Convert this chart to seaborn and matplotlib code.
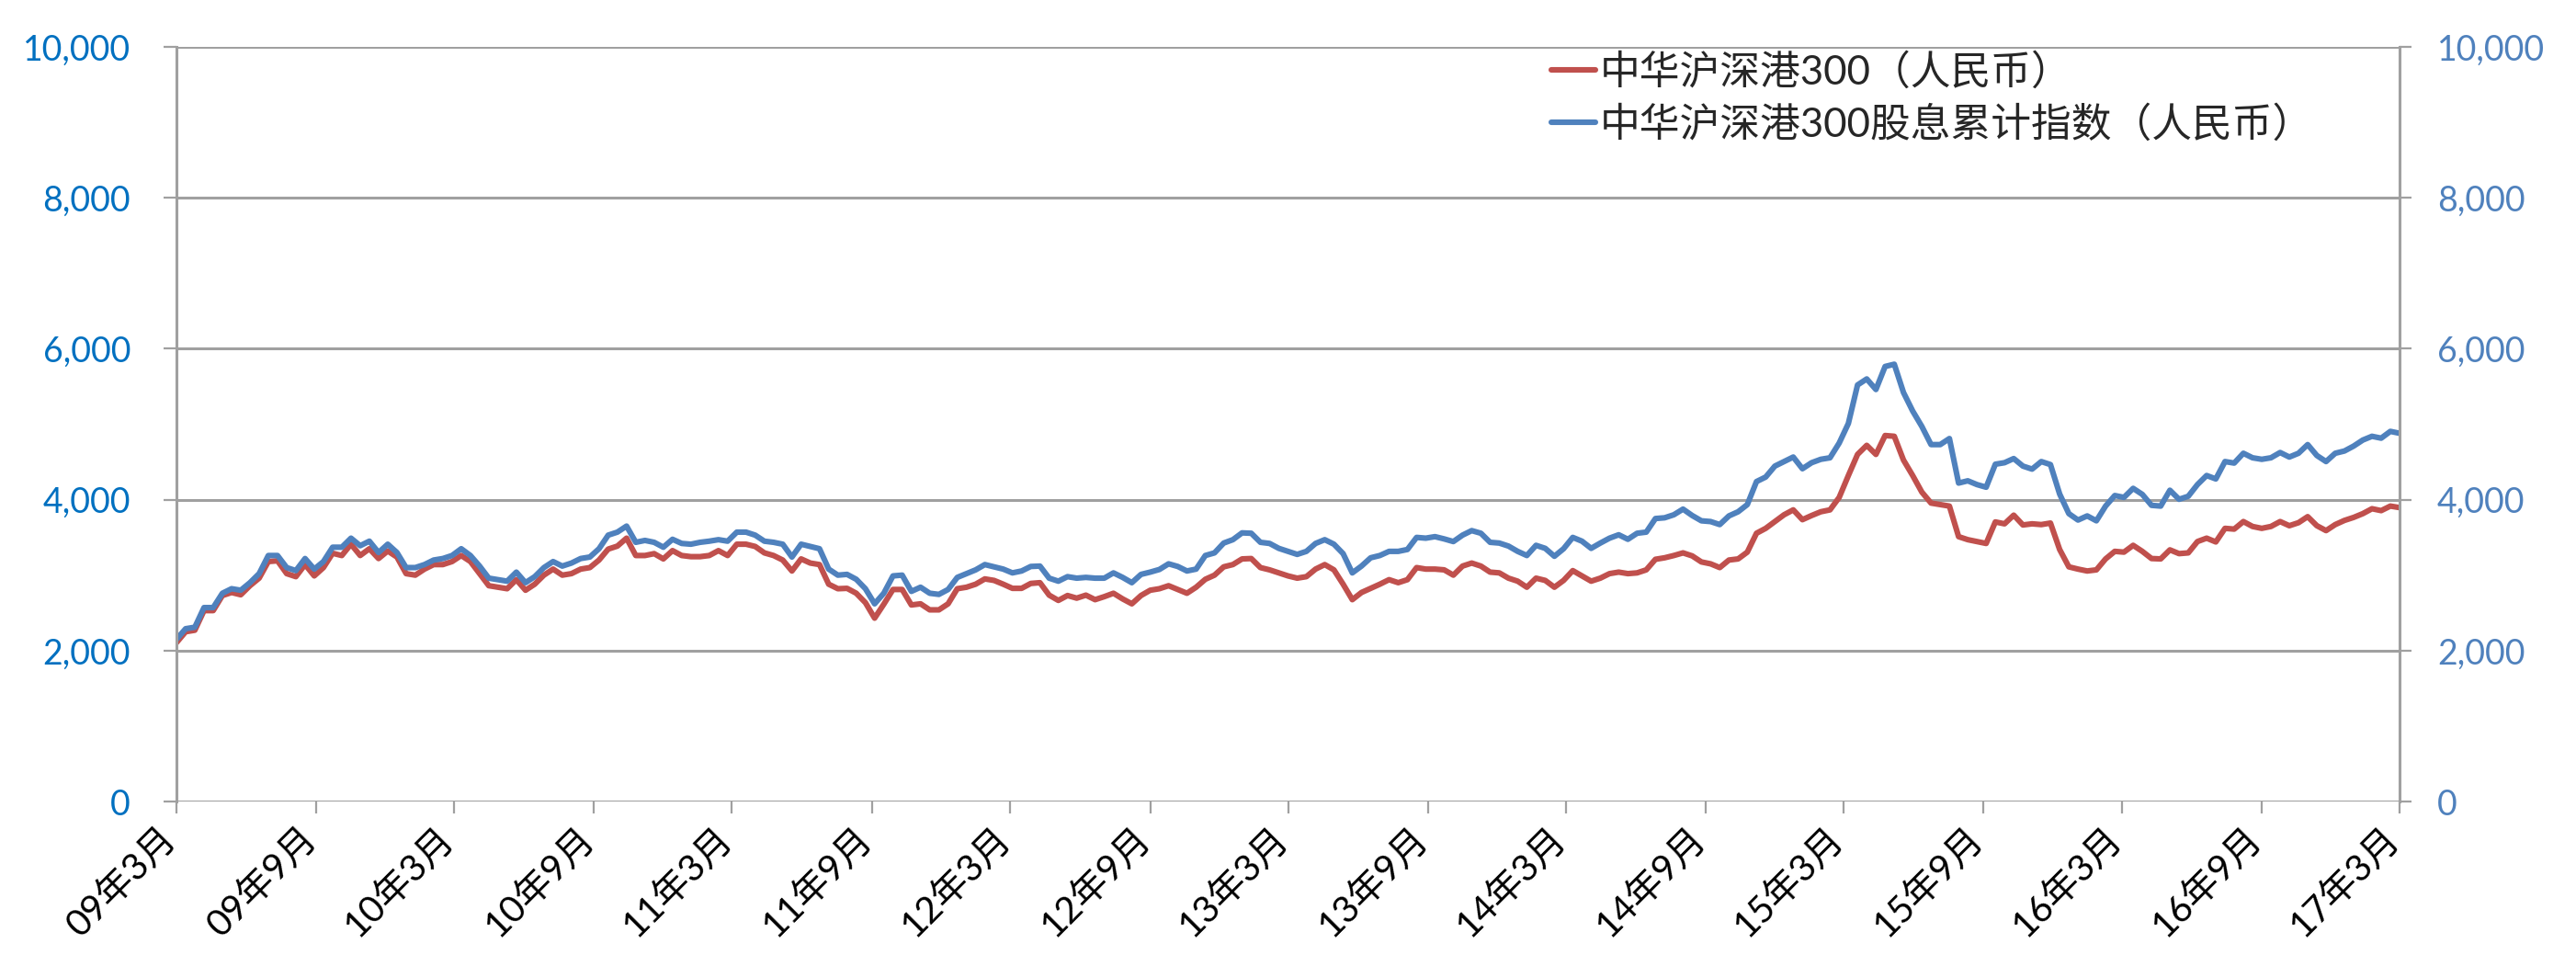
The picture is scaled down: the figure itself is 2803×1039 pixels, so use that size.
import numpy as np
import pandas as pd
import matplotlib
matplotlib.use('Agg')
import matplotlib.pyplot as plt
import matplotlib.ticker as mticker
import matplotlib.transforms as mtransforms
import seaborn as sns

start_date = '2009-03-01'
end_date = '2017-03-01'

series_names = ['中华沪深港300（人民币）', '中华沪深港300股息累计指数（人民币）']

hs300_rmb = [
    2105, 2250, 2270, 2530, 2530, 2730, 2770, 2740, 2860, 2960,
    3180, 3190, 3020, 2980, 3140, 2990, 3100, 3290, 3260, 3410,
    3260, 3350, 3220, 3320, 3240, 3020, 3000, 3080, 3140, 3140,
    3180, 3260, 3180, 3020, 2860, 2840, 2820, 2940, 2800, 2880,
    3000, 3080, 3000, 3020, 3080, 3100, 3200, 3345, 3385,
    3490, 3260, 3260, 3285, 3215, 3325, 3260, 3245, 3245, 3260,
    3325, 3260, 3410, 3410, 3380, 3295, 3260, 3200, 3055, 3215,
    3160, 3140, 2880, 2820, 2825, 2760, 2635, 2430, 2615, 2810,
    2810, 2605, 2620, 2540, 2540, 2620, 2820, 2840, 2880, 2950,
    2930, 2880, 2825, 2825, 2890, 2900, 2735, 2665, 2730,
    2695, 2735, 2675, 2715, 2760, 2685, 2620, 2730, 2800, 2820,
    2860, 2810, 2760, 2840, 2945, 3000, 3110, 3140, 3215, 3220,
    3100, 3070, 3030, 2990, 2960, 2980, 3080, 3140, 3070, 2880,
    2675, 2770, 2825, 2880, 2940, 2900, 2940, 3100, 3080, 3080,
    3070, 3000, 3120, 3160, 3120, 3040, 3030, 2960, 2920,
    2840, 2960, 2930, 2840, 2930, 3060, 2990, 2920, 2960, 3020,
    3040, 3020, 3030, 3070, 3210, 3230, 3260, 3295, 3255, 3175,
    3150, 3100, 3200, 3215, 3305, 3555, 3620, 3710, 3800, 3865,
    3735, 3790, 3840, 3865, 4030, 4320, 4600, 4720, 4600, 4850,
    4840, 4525, 4320, 4100, 3955, 3935, 3915, 3510, 3470,
    3445, 3420, 3705, 3680, 3795, 3665, 3680, 3670, 3690, 3340,
    3110, 3080, 3055, 3070, 3215, 3315, 3305, 3395, 3315, 3220,
    3215, 3335, 3285, 3295, 3445, 3490, 3440, 3620, 3610, 3710,
    3645, 3620, 3645, 3710, 3655, 3695, 3775, 3655, 3590, 3670,
    3725, 3765, 3815, 3880, 3855, 3915, 3895,
]

hs300_div_rmb = [
    2150, 2290, 2310, 2570, 2570, 2760, 2820, 2800, 2900, 3020,
    3260, 3260, 3100, 3060, 3220, 3080, 3180, 3370, 3370, 3490,
    3390, 3450, 3300, 3410, 3300, 3100, 3100, 3140, 3200, 3220,
    3260, 3350, 3260, 3120, 2960, 2940, 2920, 3040, 2900, 2980,
    3100, 3180, 3120, 3160, 3220, 3240, 3350, 3530, 3570,
    3650, 3435, 3460, 3435, 3370, 3475, 3420, 3410, 3435, 3450,
    3470, 3450, 3570, 3570, 3530, 3450, 3435, 3410, 3240, 3410,
    3380, 3350, 3080, 3000, 3010, 2945, 2820, 2620, 2760, 2990,
    3000, 2785, 2840, 2760, 2745, 2810, 2970, 3020, 3070, 3140,
    3110, 3080, 3030, 3055, 3115, 3120, 2960, 2920, 2980,
    2960, 2970, 2960, 2960, 3030, 2970, 2900, 3010, 3040, 3075,
    3150, 3115, 3055, 3080, 3260, 3295, 3425, 3470, 3560, 3555,
    3435, 3420, 3355, 3315, 3275, 3315, 3420, 3470, 3410, 3285,
    3030, 3120, 3230, 3260, 3315, 3315, 3340, 3500, 3490, 3510,
    3480, 3445, 3530, 3590, 3555, 3435, 3425, 3385, 3315,
    3260, 3395, 3355, 3250, 3350, 3500, 3450, 3355, 3425, 3490,
    3535, 3475, 3555, 3570, 3750, 3760, 3800, 3875, 3790, 3720,
    3710, 3670, 3785, 3840, 3935, 4240, 4300, 4445, 4505, 4565,
    4410, 4490, 4535, 4555, 4750, 5010, 5520, 5600, 5460, 5765,
    5795, 5420, 5175, 4970, 4730, 4730, 4810, 4220, 4250,
    4200, 4165, 4470, 4490, 4545, 4445, 4405, 4505, 4465, 4075,
    3815, 3730, 3785, 3720, 3915, 4055, 4030, 4150, 4070, 3925,
    3915, 4125, 4005, 4045, 4200, 4320, 4275, 4505, 4485, 4615,
    4555, 4535, 4555, 4625, 4565, 4615, 4730, 4585, 4505, 4615,
    4645, 4710, 4790, 4840, 4815, 4905, 4880,
]

tick_dates = ['2009-03-01', '2009-09-01', '2010-03-01', '2010-09-01', '2011-03-01',
              '2011-09-01', '2012-03-01', '2012-09-01', '2013-03-01', '2013-09-01',
              '2014-03-01', '2014-09-01', '2015-03-01', '2015-09-01', '2016-03-01',
              '2016-09-01', '2017-03-01']
tick_labels = ['09年3月', '09年9月', '10年3月', '10年9月', '11年3月', '11年9月',
               '12年3月', '12年9月', '13年3月', '13年9月', '14年3月', '14年9月',
               '15年3月', '15年9月', '16年3月', '16年9月', '17年3月']
y_ticks = [0, 2000, 4000, 6000, 8000, 10000]

sns.set_style('white')
plt.rcParams['font.family'] = ['Lato', 'Noto Sans CJK SC', 'DejaVu Sans']

df = pd.DataFrame({
    'date': pd.date_range(start_date, end_date, periods=len(hs300_rmb)),
    'price': hs300_rmb,
    'div': hs300_div_rmb,
})

red = '#C0504D'
blue = '#4F81BD'
grey = '#A0A0A0'

fig = plt.figure(figsize=(28.03, 10.39), dpi=100)
ax = fig.add_axes([0.0685, 0.1607, 0.8630, 0.7902])

sns.lineplot(data=df, x='date', y='price', ax=ax, color=red, linewidth=4.4,
             label=series_names[0])
sns.lineplot(data=df, x='date', y='div', ax=ax, color=blue, linewidth=4.4,
             label=series_names[1])

ax.set_xlim(pd.Timestamp(start_date), pd.Timestamp(end_date))
ax.set_ylim(0, 10000)
ax.set_yticks(y_ticks)
ax.yaxis.set_major_formatter(mticker.StrMethodFormatter('{x:,.0f}'))
ax.set_xticks(pd.to_datetime(tick_dates))
ax.set_xticklabels(tick_labels, rotation=45, ha='right', va='center',
                   rotation_mode='anchor')
ax.set_xlabel('')
ax.set_ylabel('')

ax.grid(axis='y', color=grey, linewidth=2.2)
ax.grid(axis='x', visible=False)
ax.set_axisbelow(True)
for s in ['top', 'right', 'bottom']:
    ax.spines[s].set_visible(False)
ax.spines['left'].set_color(grey)
ax.spines['left'].set_linewidth(2.2)

ax.tick_params(axis='y', left=True, direction='out', length=10, width=1.6,
               color=grey, pad=26, labelsize=27, labelcolor='#0070C0')
ax.tick_params(axis='x', bottom=True, direction='out', length=9.5, width=1.6,
               color=grey, pad=15, labelsize=29, labelcolor='black')

shift = mtransforms.ScaledTranslation(-0.06, 0, fig.dpi_scale_trans)
for lab in ax.get_xticklabels():
    lab.set_transform(lab.get_transform() + shift)

ax2 = ax.twinx()
ax2.set_ylim(0, 10000)
ax2.set_yticks(y_ticks)
ax2.yaxis.set_major_formatter(mticker.StrMethodFormatter('{x:,.0f}'))
ax2.grid(False)
for s in ['top', 'left', 'bottom']:
    ax2.spines[s].set_visible(False)
ax2.spines['right'].set_color(grey)
ax2.spines['right'].set_linewidth(2.2)
ax2.tick_params(axis='y', right=True, direction='out', length=9.5, width=1.6,
                color=grey, pad=20, labelsize=27, labelcolor=blue)

ax.legend(loc='upper left', bbox_to_anchor=(1688 / 2803, 1 - 58 / 1039),
          bbox_transform=fig.transFigure, frameon=False, fontsize=31.5,
          handlelength=1.1, handletextpad=0.1, labelspacing=0.35,
          borderaxespad=0, borderpad=0)

fig.savefig('out.png', dpi=100)
